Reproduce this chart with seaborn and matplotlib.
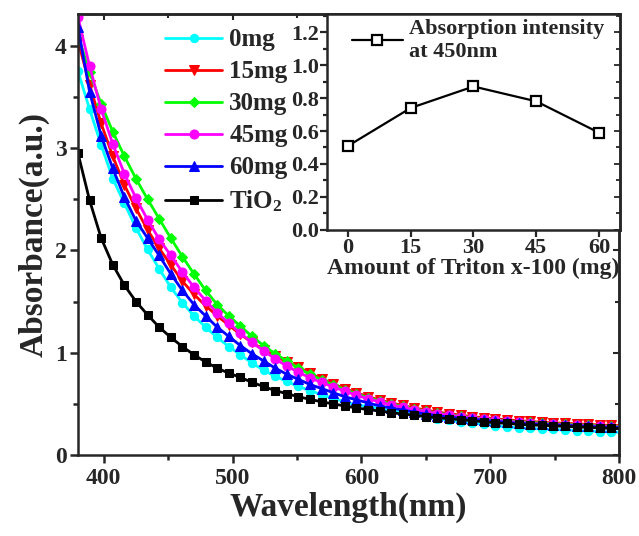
import matplotlib
matplotlib.use("Agg")
import matplotlib.pyplot as plt
import seaborn as sns
from matplotlib.ticker import MultipleLocator, FormatStrFormatter

# wavelength grid (nm)
wavelength = [380, 389, 398, 407, 416, 425, 434, 443, 452, 461, 470, 479, 488, 497, 506, 515,
              524, 533, 542, 551, 560, 569, 578, 587, 596, 605, 614, 623, 632, 641, 650, 659,
              668, 677, 686, 695, 704, 713, 722, 731, 740, 749, 758, 767, 776, 785, 794, 803]

abs_0mg = [3.75, 3.38, 3.03, 2.70, 2.46, 2.22, 2.01, 1.82, 1.64, 1.49, 1.36, 1.25, 1.15, 1.06, 0.98, 0.90,
           0.83, 0.77, 0.72, 0.67, 0.63, 0.59, 0.555, 0.52, 0.49, 0.475, 0.455, 0.435, 0.415, 0.395, 0.375, 0.355,
           0.34, 0.325, 0.31, 0.30, 0.285, 0.275, 0.266, 0.26, 0.255, 0.25, 0.245, 0.24, 0.235, 0.23, 0.225, 0.222]
abs_15mg = [4.05, 3.62, 3.24, 2.92, 2.64, 2.41, 2.20, 2.02, 1.86, 1.70, 1.57, 1.46, 1.36, 1.27, 1.18, 1.10,
            1.03, 0.97, 0.91, 0.86, 0.80, 0.745, 0.695, 0.65, 0.61, 0.57, 0.54, 0.51, 0.485, 0.46, 0.44, 0.42,
            0.405, 0.39, 0.375, 0.365, 0.355, 0.345, 0.335, 0.33, 0.32, 0.315, 0.31, 0.305, 0.30, 0.295, 0.29, 0.288]
abs_30mg = [4.10, 3.74, 3.43, 3.16, 2.92, 2.70, 2.50, 2.31, 2.12, 1.94, 1.77, 1.61, 1.47, 1.36, 1.26, 1.16,
            1.07, 0.99, 0.92, 0.85, 0.79, 0.735, 0.685, 0.64, 0.60, 0.56, 0.53, 0.50, 0.475, 0.45, 0.43, 0.41,
            0.395, 0.38, 0.365, 0.355, 0.345, 0.335, 0.325, 0.32, 0.31, 0.305, 0.30, 0.295, 0.29, 0.285, 0.28, 0.278]
abs_45mg = [4.28, 3.80, 3.38, 3.04, 2.75, 2.51, 2.30, 2.11, 1.95, 1.79, 1.64, 1.51, 1.39, 1.29, 1.19, 1.10,
            1.02, 0.94, 0.87, 0.81, 0.755, 0.71, 0.665, 0.625, 0.585, 0.55, 0.52, 0.49, 0.465, 0.445, 0.425, 0.405,
            0.39, 0.375, 0.36, 0.35, 0.34, 0.33, 0.32, 0.31, 0.305, 0.30, 0.295, 0.29, 0.285, 0.28, 0.275, 0.273]
abs_60mg = [4.18, 3.55, 3.12, 2.80, 2.52, 2.29, 2.12, 1.95, 1.77, 1.61, 1.47, 1.36, 1.25, 1.16, 1.07, 0.99,
            0.92, 0.85, 0.79, 0.74, 0.69, 0.65, 0.61, 0.57, 0.54, 0.51, 0.48, 0.46, 0.44, 0.42, 0.40, 0.385,
            0.37, 0.36, 0.35, 0.34, 0.33, 0.32, 0.31, 0.305, 0.30, 0.295, 0.29, 0.285, 0.28, 0.275, 0.27, 0.268]
abs_tio2 = [2.95, 2.49, 2.12, 1.86, 1.66, 1.50, 1.37, 1.25, 1.15, 1.06, 0.98, 0.91, 0.85, 0.80, 0.76, 0.71,
            0.67, 0.63, 0.60, 0.57, 0.545, 0.52, 0.50, 0.48, 0.46, 0.445, 0.43, 0.415, 0.40, 0.39, 0.375, 0.365,
            0.355, 0.345, 0.335, 0.325, 0.315, 0.31, 0.30, 0.295, 0.29, 0.285, 0.28, 0.275, 0.27, 0.265, 0.26, 0.258]

series_labels = ["0mg", "15mg", "30mg", "45mg", "60mg", "TiO$_2$"]
series_values = [abs_0mg, abs_15mg, abs_30mg, abs_45mg, abs_60mg, abs_tio2]
series_colors = ["#00ffff", "#ff0000", "#00ff00", "#ff00ff", "#0000ff", "#000000"]
series_markers = ["o", "v", "D", "o", "^", "s"]
series_msize = [6, 6.5, 5, 6.5, 6.5, 5.5]

# inset: absorption at 450 nm vs Triton amount
triton_mg = [0, 15, 30, 45, 60]
intensity_450 = [0.51, 0.74, 0.87, 0.78, 0.59]

sns.set_style("ticks")
plt.rcParams["font.family"] = ["Liberation Serif", "DejaVu Serif"]
plt.rcParams["font.weight"] = "bold"
plt.rcParams["axes.labelweight"] = "bold"
plt.rcParams["mathtext.fontset"] = "custom"
plt.rcParams["mathtext.rm"] = "Liberation Serif:bold"
plt.rcParams["mathtext.it"] = "Liberation Serif:bold"
plt.rcParams["mathtext.bf"] = "Liberation Serif:bold"

fig = plt.figure(figsize=(6.39, 5.36), dpi=100)
ax = fig.add_axes([0.122, 0.151, 0.847, 0.823])

for lab, vals, col, mk, ms in zip(series_labels, series_values, series_colors, series_markers, series_msize):
    sns.lineplot(x=wavelength, y=vals, ax=ax, color=col, marker=mk, markersize=ms,
                 markeredgecolor=col, linewidth=2, label=lab, sort=False)

ax.set_xlim(380, 800)
ax.set_ylim(0, 4.31)
ax.xaxis.set_major_locator(MultipleLocator(100))
ax.xaxis.set_minor_locator(MultipleLocator(50))
ax.yaxis.set_major_locator(MultipleLocator(1))
ax.yaxis.set_minor_locator(MultipleLocator(0.5))
ax.tick_params(which="both", direction="out", width=1.8, labelsize=17, top=False, right=False)
ax.tick_params(which="major", length=6)
ax.tick_params(which="minor", length=3.5)
ax.tick_params(axis="x", pad=3)
ax.tick_params(axis="y", pad=2)
for s in ax.spines.values():
    s.set_linewidth(1.8)
    s.set_visible(True)

# mirrored inward ticks on top/right
axr = ax.secondary_yaxis("right")
axr.yaxis.set_major_locator(MultipleLocator(1))
axr.yaxis.set_minor_locator(MultipleLocator(0.5))
axr.tick_params(which="both", direction="in", width=1.5, labelright=False)
axr.tick_params(which="major", length=4)
axr.tick_params(which="minor", length=3)
axr.spines["right"].set_linewidth(1.8)
axt = ax.secondary_xaxis("top")
axt.xaxis.set_major_locator(MultipleLocator(100))
axt.xaxis.set_minor_locator(MultipleLocator(50))
axt.tick_params(which="both", direction="in", width=1.5, labeltop=False)
axt.tick_params(which="major", length=4)
axt.tick_params(which="minor", length=3)
axt.spines["top"].set_linewidth(1.8)

ax.set_xlabel("Wavelength(nm)", fontsize=24, labelpad=2)
ax.set_ylabel("Absorbance(a.u.)", fontsize=24, labelpad=4)

ax.legend(loc="upper left", bbox_to_anchor=(0.142, 0.99), frameon=False, fontsize=18,
          handlelength=2.3, handletextpad=0.28, labelspacing=0.36, borderpad=0.4,
          borderaxespad=0)

# inset
ins = fig.add_axes([0.512, 0.571, 0.458, 0.403])
ins.set_facecolor("white")
sns.lineplot(x=triton_mg, y=intensity_450, ax=ins, color="black", marker="s", markersize=7,
             markerfacecolor="white", markeredgecolor="black", markeredgewidth=1.6, linewidth=1.6,
             label="Absorption intensity\nat 450nm")
ins.set_xlim(-5, 65)
ins.set_ylim(0, 1.31)
ins.set_xticks(triton_mg)
ins.yaxis.set_major_locator(MultipleLocator(0.2))
ins.yaxis.set_minor_locator(MultipleLocator(0.1))
ins.yaxis.set_major_formatter(FormatStrFormatter("%.1f"))
ins.tick_params(which="both", direction="out", width=1.6, labelsize=16, top=False, right=False, pad=1)
ins.tick_params(which="major", length=5)
ins.tick_params(which="minor", length=3)
for s in ins.spines.values():
    s.set_linewidth(1.8)
insr = ins.secondary_yaxis("right")
insr.yaxis.set_major_locator(MultipleLocator(0.2))
insr.yaxis.set_minor_locator(MultipleLocator(0.1))
insr.tick_params(which="both", direction="in", width=1.3, labelright=False)
insr.tick_params(which="major", length=4)
insr.tick_params(which="minor", length=3)
insr.spines["right"].set_linewidth(1.8)
ins.set_xlabel("Amount of Triton x-100 (mg)", fontsize=17, labelpad=0)
ins.set_ylabel("")
ins.legend(loc="upper left", bbox_to_anchor=(0.03, 1.05), frameon=False, fontsize=16,
           handlelength=2.3, handletextpad=0.3, borderpad=0.2, borderaxespad=0.5)

fig.savefig("out.png", dpi=100)
